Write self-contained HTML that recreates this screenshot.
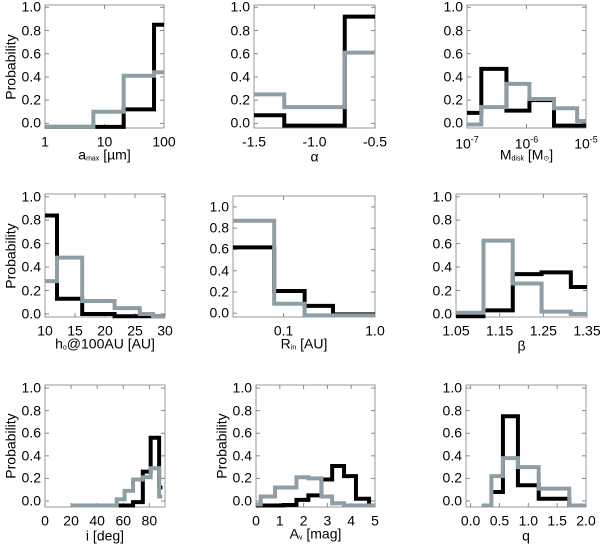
<!DOCTYPE html>
<html><head><meta charset="utf-8">
<style>
body{margin:0;background:#fff;width:600px;height:543px;overflow:hidden;position:relative;font-family:"Liberation Sans",Arial,sans-serif;color:#000}
svg{position:absolute;left:0;top:0}
.t{position:absolute;font-size:14px;line-height:15px;white-space:nowrap}
.yl{transform:translate(-50%,-50%) rotate(-90deg)}
sub{font-size:7px;vertical-align:-1px}
sup{font-size:9px;vertical-align:6px}
</style></head><body>
<svg id="plot" width="600" height="543"></svg>
<script>
// ---- data arrays ----
const p1Edges=[1,6.5,21,68,100];
const p1Black=[-0.03,-0.03,0.12,0.85];
const p1Gray=[-0.03,0.10,0.41,0.44];
const p2Edges=[-1.5,-1.25,-1.0,-0.75,-0.5];
const p2Black=[0.07,-0.02,-0.02,0.92];
const p2Gray=[0.25,0.14,0.14,0.61];
const p3Edges=[1e-7,1.74e-7,4.6e-7,1.12e-6,2.9e-6,7.1e-6,1e-5];
const p3Black=[0.09,0.47,0.11,0.20,-0.02,-0.02];
const p3Gray=[-0.01,0.14,0.34,0.21,0.13,0.02];
const p4Edges=[10,12,16.2,21.6,25.8,28,30];
const p4Black=[0.84,0.13,0,-0.02,-0.02,-0.02];
const p4Gray=[0.28,0.48,0.11,0.05,0.0,-0.02];
const p5Edges=[0.028,0.079,0.17,0.347,1.0];
const p5Black=[0.62,0.21,0.07,-0.01];
const p5Gray=[0.87,0.09,-0.02,-0.02];
const p6Edges=[1.05,1.113,1.18,1.246,1.313,1.35];
const p6Black=[-0.02,0.03,0.34,0.355,0.23];
const p6Gray=[0.01,0.625,0.26,0.02,0.0];
const p7Edges=[20,55,61,67.5,75,81,87.5,90];
const p7Black=[null,-0.04,-0.04,-0.01,0.26,0.56,0.12];
const p7Gray=[-0.04,0.015,0.09,0.19,0.21,0.29,0.04];
const p8Edges=[0,0.2,0.8,1.15,1.7,2.2,2.75,3.2,3.7,4.2,4.75,5];
const p8Black=[-0.04,-0.04,-0.04,-0.035,0.01,0.05,0.19,0.31,0.22,0.02,-0.04];
const p8Gray=[-0.03,0.04,0.12,0.12,0.21,0.20,0.04,-0.02,-0.04,-0.04,-0.04];
const p9Edges=[0.19,0.36,0.56,0.82,1.18,1.71,2.0];
const p9Black=[null,0.08,0.75,0.14,0.02,-0.04];
const p9Gray=[-0.04,0.22,0.38,0.30,0.11,-0.04];
const yTicks=[0,0.2,0.4,0.6,0.8,1.0];
const yTickLabels=["0.0","0.2","0.4","0.6","0.8","1.0"];

const panels=[
 {n:'amax',box:[45,164,5,128],log:true,xr:[1,100],yr:[-0.04,1.02],xt:[1,10,100],xl:['1','10','100'],e:p1Edges,b:p1Black,g:p1Gray,title:'a<sub>max</sub> [µm]',ylab:true},
 {n:'alpha',box:[254,375,5,128],log:false,xr:[-1.5,-0.5],yr:[-0.04,1.02],xt:[-1.5,-1,-0.5],xl:['-1.5','-1.0','-0.5'],e:p2Edges,b:p2Black,g:p2Gray,title:'α'},
 {n:'mdisk',box:[467,586,5,128],log:true,xr:[1e-7,1e-5],yr:[-0.04,1.02],xt:[1e-7,1e-6,1e-5],xl:['10<sup>-7</sup>','10<sup>-6</sup>','10<sup>-5</sup>'],e:p3Edges,b:p3Black,g:p3Gray,title:'M<sub>disk</sub> [M<sub>⊙</sub>]'},
 {n:'h0',box:[45,165,194,317],log:false,xr:[10,30],yr:[-0.026,1.023],xt:[10,15,20,25,30],xl:['10','15','20','25','30'],e:p4Edges,b:p4Black,g:p4Gray,title:'h<sub>o</sub>@100AU [AU]',ylab:true},
 {n:'rin',box:[233,375,196,317],log:true,xr:[0.028,1.0],yr:[-0.035,1.103],xt:[0.1,1.0],xl:['0.1','1.0'],e:p5Edges,b:p5Black,g:p5Gray,title:'R<sub>in</sub> [AU]'},
 {n:'beta',box:[456,587,194,317],log:false,xr:[1.05,1.35],yr:[-0.026,1.023],xt:[1.05,1.15,1.25,1.35],xl:['1.05','1.15','1.25','1.35'],e:p6Edges,b:p6Black,g:p6Gray,title:'β'},
 {n:'incl',box:[45,165,385,507],log:false,xr:[0,92],yr:[-0.053,1.027],xt:[0,20,40,60,80],xl:['0','20','40','60','80'],e:p7Edges,b:p7Black,g:p7Gray,title:'i [deg]',ylab:true},
 {n:'av',box:[256,375,385,507],log:false,xr:[0,5],yr:[-0.053,1.027],xt:[0,1,2,3,4,5],xl:['0','1','2','3','4','5'],e:p8Edges,b:p8Black,g:p8Gray,title:'A<sub>v</sub> [mag]',ylab:true},
 {n:'q',box:[466,586,385,507],log:false,xr:[-0.08,2.0],yr:[-0.053,1.027],xt:[0,0.5,1,1.5,2],xl:['0.0','0.5','1.0','1.5','2.0'],e:p9Edges,b:p9Black,g:p9Gray,title:'q'}
];
const svg=document.getElementById('plot');
const NS='http://www.w3.org/2000/svg';
function mk(tag,attrs){const el=document.createElementNS(NS,tag);for(const k in attrs)el.setAttribute(k,attrs[k]);svg.appendChild(el);return el;}
function txt(html,x,y,cls,align){const d=document.createElement('div');d.className='t '+(cls||'');d.innerHTML=html;d.style.left=x+'px';d.style.top=y+'px';if(!cls)d.style.transform=align==='r'?'translate(-100%,-50%)':'translate(-50%,-50%)';document.body.appendChild(d);return d;}
panels.forEach(p=>{
 const [x0,x1,y0,y1]=p.box;
 const fx=v=>{const a=p.log?Math.log10(v):v,lo=p.log?Math.log10(p.xr[0]):p.xr[0],hi=p.log?Math.log10(p.xr[1]):p.xr[1];return x0+(a-lo)/(hi-lo)*(x1-x0);};
 const fy=v=>y1-(v-p.yr[0])/(p.yr[1]-p.yr[0])*(y1-y0);
 const box=mk('rect',{x:x0,y:y0,width:x1-x0,height:y1-y0,fill:'none',stroke:'#999','stroke-width':1});
 
 
 p.xt.forEach((v,i)=>{const x=fx(v);
  mk('line',{x1:x,x2:x,y1:y1,y2:y1-4,stroke:'#888'});mk('line',{x1:x,x2:x,y1:y0,y2:y0+4,stroke:'#888'});
  const l=txt(p.xl[i],x,y1+14);
  
  
 });
 yTicks.forEach((v,i)=>{const y=fy(v);
  mk('line',{x1:x0,x2:x0+4,y1:y,y2:y,stroke:'#888'});mk('line',{x1:x1,x2:x1-4,y1:y,y2:y,stroke:'#888'});
  const l=txt(yTickLabels[i],x0-4,y,null,'r');
  
  
 });
 const tt=txt(p.title,(x0+x1)/2,y1+29);
 
 
 if(p.ylab){const yl=txt('Probability',x0-34,(y0+y1)/2,'yl');
  
  }
 [[p.b,'#000','black'],[p.g,'#8e9ea6','gray']].forEach(([vals,col,nm])=>{
  let d='',prev=null;
  vals.forEach((v,i)=>{
   if(v===null){prev=null;return;}
   const xa=fx(p.e[i]),xb=fx(p.e[i+1]),y=fy(v);
   if(prev===null)d+=`M${xa},${y}`;else d+=`V${y}`;
   d+=`H${xb}`;prev=v;
  });
  const path=mk('path',{d:d,fill:'none',stroke:col,'stroke-width':4,'stroke-linejoin':'miter'});
  
  
 });
});
</script>
</body></html>
